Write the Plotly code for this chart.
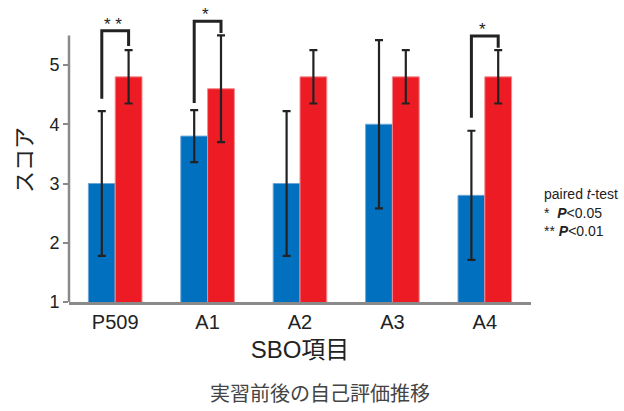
import plotly.graph_objects as go

# ---- data ----
categories = ["P509", "A1", "A2", "A3", "A4"]
before_vals = [3.0, 3.8, 3.0, 4.0, 2.8]
before_err = [1.22, 0.44, 1.22, 1.42, 1.09]
after_vals = [4.8, 4.6, 4.8, 4.8, 4.8]
after_err = [0.45, 0.90, 0.45, 0.45, 0.45]
y_ticks = [1, 2, 3, 4, 5]

# significance brackets: category index, left-bottom, top, right-bottom, label
sig_cats = [0, 1, 4]
sig_left = [4.43, 4.36, 4.11]
sig_top = [5.58, 5.74, 5.49]
sig_right = [5.32, 5.54, 5.29]
sig_labels = ["* *", "*", "*"]

legend_lines = ["paired <i>t</i>-test", "*  <b><i>P</i></b>&lt;0.05", "** <b><i>P</i></b>&lt;0.01"]

BLUE = "#0070BF"
RED = "#ED1C24"
ERR = "#222222"
AXIS = "#8a8a8a"
FONT = "Liberation Sans, Arial, Noto Sans CJK JP, sans-serif"

bargap = 0.42
bar_w = (1 - bargap) / 2

fig = go.Figure()
fig.add_trace(go.Bar(
    x=categories, y=before_vals, marker=dict(color=BLUE, line=dict(color="#6aa6d8", width=1)),
    error_y=dict(type="data", array=before_err, color=ERR, thickness=2.2, width=4),
    showlegend=False,
))
fig.add_trace(go.Bar(
    x=categories, y=after_vals, marker=dict(color=RED, line=dict(color="#f48a8e", width=1)),
    error_y=dict(type="data", array=after_err, color=ERR, thickness=2.2, width=4),
    showlegend=False,
))

shapes = []
annotations = []
# y axis line (ends at 5.5)
shapes.append(dict(type="line", xref="paper", yref="y", x0=0, x1=0, y0=1, y1=5.5,
                   line=dict(color=AXIS, width=2.5), layer="above"))
for c, yl, yt, yr, lab in zip(sig_cats, sig_left, sig_top, sig_right, sig_labels):
    xl = c - bar_w / 2
    xr = c + bar_w / 2
    shapes.append(dict(type="path", xref="x", yref="y",
                       path=f"M {xl},{yl} L {xl},{yt} L {xr},{yt} L {xr},{yr}",
                       line=dict(color=ERR, width=3)))
    annotations.append(dict(x=c - 0.02, y=yt, xref="x", yref="y",
                            text=lab, showarrow=False, yanchor="bottom", yshift=-5,
                            font=dict(size=17, color=ERR, family=FONT)))

leg_y = [0.380, 0.313, 0.250]
for t, yy in zip(legend_lines, leg_y):
    annotations.append(dict(x=1.024, y=yy, xref="paper", yref="paper", text=t, showarrow=False,
                            xanchor="left", yanchor="middle", align="left",
                            font=dict(size=14, color="#222", family=FONT)))

fig.update_layout(
    width=624, height=411,
    margin=dict(l=69, r=93, t=18, b=109, autoexpand=False),
    paper_bgcolor="white", plot_bgcolor="white",
    barmode="group", bargap=bargap, bargroupgap=0,
    font=dict(family=FONT, color="#222"),
    shapes=shapes, annotations=annotations,
    title=dict(text="実習前後の自己評価推移", x=0.513, xanchor="center", y=1 - 394 / 411, yanchor="middle",
               font=dict(size=20, color="#444", family="Noto Sans CJK JP, sans-serif")),
    xaxis=dict(type="category", range=[-0.5, 4.5], showline=True, linecolor=AXIS, linewidth=2.5,
               ticks="", tickfont=dict(size=20, color="#222"), showgrid=False, zeroline=False,
               automargin=False,
               title=dict(text="SBO項目", font=dict(size=24, color="#222"), standoff=10)),
    yaxis=dict(range=[1, 1 + (302 - 18) / 59.25], tickvals=y_ticks, showline=False, ticks="outside",
               ticklen=5, tickwidth=2, tickcolor=AXIS, tickfont=dict(size=18, color="#222"),
               showgrid=False, zeroline=False, automargin=False,
               title=dict(text="スコア", font=dict(size=22, color="#222", family="Noto Sans CJK JP, sans-serif"),
                          standoff=10)),
)

fig.write_html("out.html", config={"displayModeBar": False},
               post_script="document.body.style.margin='0';")
